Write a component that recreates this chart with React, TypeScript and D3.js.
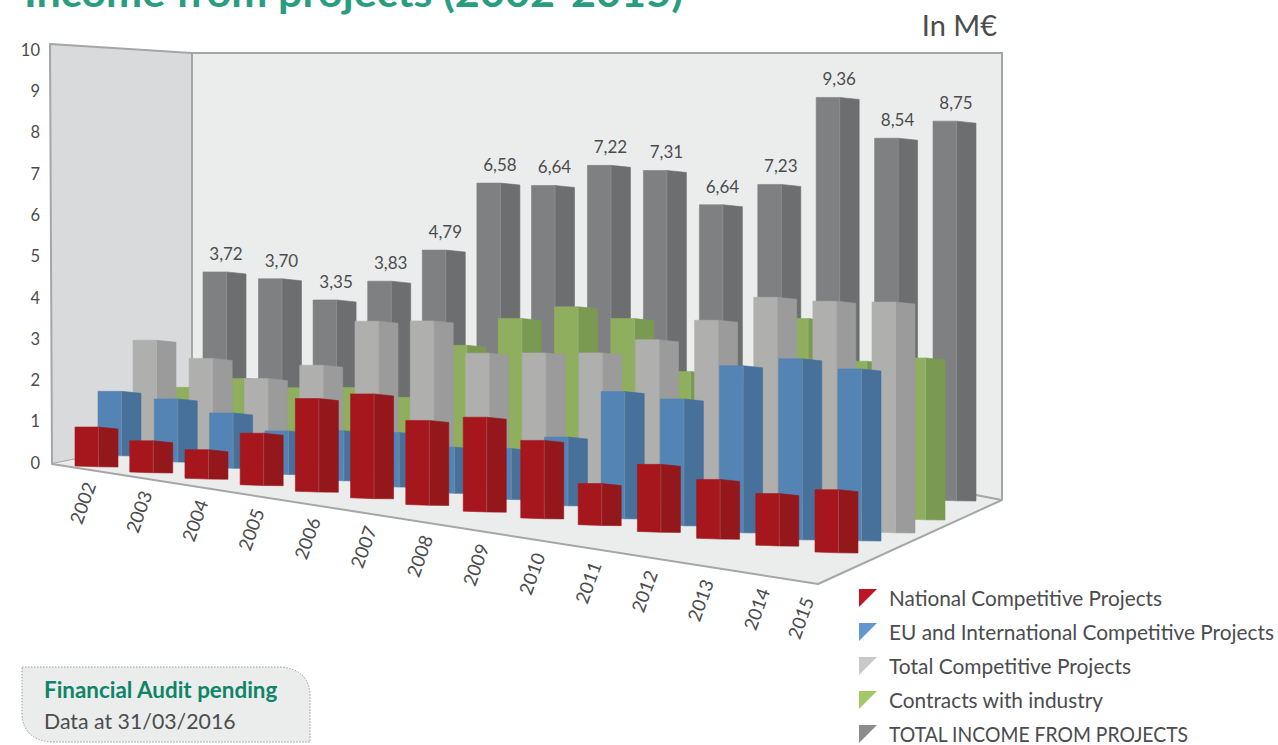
import React from "react";
import * as d3 from "d3";

const years = ["2002","2003","2004","2005","2006","2007","2008","2009","2010","2011","2012","2013","2014","2015"];
const nationalCompetitive = [0.90,0.72,0.66,1.19,2.14,2.40,1.94,2.17,1.79,0.95,1.55,1.36,1.19,1.44];
const euInternational = [1.47,1.44,1.26,0.99,1.14,1.24,1.05,1.16,1.57,2.92,2.91,3.84,4.16,3.95];
const totalCompetitive = [2.42,2.14,1.82,2.28,3.45,3.61,3.02,3.18,3.34,3.80,4.41,5.10,5.17,5.31];
const contractsIndustry = [1.10,1.44,1.37,1.52,1.44,2.79,3.56,3.98,3.86,2.79,2.77,4.32,3.49,3.72];
const totalIncome = [3.72,3.70,3.35,3.83,4.79,6.58,6.64,7.22,7.31,6.64,7.23,9.36,8.54,8.75];
const legendLabels = ["National Competitive Projects","EU and International Competitive Projects","Total Competitive Projects","Contracts with industry","TOTAL INCOME FROM PROJECTS"];
const yTicks = [0,1,2,3,4,5,6,7,8,9,10];

const legendWidths = [273, 385, 242, 214, 299];
const FONT = "Lato, 'Open Sans', sans-serif";
const TEXT = "#4b4c4e";
const UNIT = 43.3;
const FRONT_W = 23.5;
const SIDE_W = 19.5;

const along = d3.scaleLinear().domain([0, 1, 6, 9, 13]).range([0, 0.076, 0.45, 0.68, 1]);
const alongFront = d3.scaleLinear().domain([0, 1, 6, 9, 13]).range([0, 0.074, 0.447, 0.68, 1]);
const xPlane = (range: number[], f = along) => {
  const s = d3.scaleLinear().domain([0, 1]).range(range);
  return (i: number) => s(f(i));
};
const pow = (range: number[]) => d3.scalePow().exponent(1.04).domain([0, 13]).range(range);

const planes = [
  { values: nationalCompetitive, x: xPlane([75, 815], alongFront), base: pow([466, 552]), front: "#a6171d", side: "#94171b", key: "#be1622" },
  { values: euInternational, x: xPlane([98, 838]), base: d3.scaleLinear().domain([0, 8, 9, 12, 13]).range([455, 505, 518, 539, 540]), front: "#5384b4", side: "#47719b", key: "#6398cf" },
  { values: totalCompetitive, x: xPlane([133, 872]), base: pow([445, 532]), front: "#afafae", side: "#9b9b9b", key: "#c9c9c9" },
  { values: contractsIndustry, x: xPlane([168, 902]), base: pow([435, 519]), front: "#8fae5e", side: "#7a9a52", key: "#a3c866" },
  { values: totalIncome, x: xPlane([203, 933]), base: d3.scaleLinear().domain([0, 2, 3, 5, 7, 8, 12, 13]).range([433, 445, 447, 468, 478, 487, 508, 500]), front: "#7f8082", side: "#6d6e70", key: "#8c8c8c" },
];

const yAxis = d3.scaleLinear().domain([0, 10]).range([463, 50]);
const yearX = d3.scaleLinear().domain([0, 12, 13]).range([83, 757, 801]);
const yearY = d3.scaleLinear().domain([0, 13]).range([503, 618]);
const legendY = d3.scaleLinear().domain([0, 4]).range([599, 735]);
const poly = d3.line();

function Bar({ i, p }: { i: number; p: (typeof planes)[number] }) {
  const x0 = p.x(i);
  const x1 = x0 + FRONT_W;
  const x2 = x1 + SIDE_W;
  const bot = p.base(i);
  const top = bot - p.values[i] * UNIT;
  return (
    <g>
      <path d={poly([[x0, top],[x1, top],[x1, bot + 0.8],[x0, bot]]) + "Z"} fill={p.front} stroke={p.front} strokeWidth={0.6} />
      <path d={poly([[x1, top],[x2, top + 2],[x2, bot + 1],[x1, bot + 0.8]]) + "Z"} fill={p.side} stroke={p.side} strokeWidth={0.6} />
      <line x1={x1} x2={x1} y1={top} y2={bot + 0.8} stroke="#ffffff" strokeOpacity={0.22} strokeWidth={0.8} />
    </g>
  );
}

export default function App() {
  const wallStroke = "#a5a6a6";
  return (
    <svg width={1278} height={745} style={{ position: "absolute", left: 0, top: 0, display: "block" }} fontFamily={FONT}>
      <text x={24} y={7} fontSize={40} fontWeight={700} fill="#2a9d80" textLength={659} lengthAdjust="spacingAndGlyphs">Income from projects (2002-2015)</text>
      <text x={997} y={36} fontSize={29} fill={TEXT} textAnchor="end">In M€</text>

      <path d="M50,44L192,53L192,436L52,464Z" fill="#d9dadc" stroke={wallStroke} strokeWidth={2} strokeLinejoin="round" />
      <path d="M192,53L1002,53L1002,500L192,436Z" fill="#ebeded" stroke="none" />
      <path d="M192,53L1002,53L1002,500" fill="none" stroke={wallStroke} strokeWidth={2} />
      <path d="M192,53L192,436" fill="none" stroke={wallStroke} strokeWidth={2} />
      <path d="M52,464L192,436L960,492L1002,500L818,584Z" fill="#ebeded" stroke="none" />
      <path d="M960,492L1002,500L818,584L52,464" fill="none" stroke={wallStroke} strokeWidth={2} strokeLinejoin="round" />

      {yTicks.map((t) => (
        <text key={t} x={40} y={yAxis(t)} dy="0.35em" fontSize={16.5} fill={TEXT} textAnchor="end">{t}</text>
      ))}

      {[...planes].reverse().map((p, s) => (
        <g key={s}>{years.map((_, i) => <Bar key={i} i={i} p={p} />)}</g>
      ))}

      {totalIncome.map((v, i) => {
        const p = planes[4];
        return (
          <text key={i} x={p.x(i) + 23} y={p.base(i) - v * UNIT - 18} dy="0.35em" fontSize={17} fill={TEXT} textAnchor="middle">
            {d3.format(".2f")(v).replace(".", ",")}
          </text>
        );
      })}

      {years.map((y, i) => (
        <text key={y} transform={`translate(${yearX(i)},${yearY(i)}) rotate(-70)`} dy="0.35em" fontSize={18.5} fill={TEXT} textAnchor="middle">{y}</text>
      ))}

      {legendLabels.map((l, i) => {
        const cy = legendY(i);
        return (
          <g key={l}>
            <path d={poly([[859, cy - 10],[877, cy - 10],[859, cy + 8]]) + "Z"} fill={planes[i].key} />
            <text x={889} y={cy} dy="0.35em" fontSize={20.8} fill={TEXT} textLength={legendWidths[i]} lengthAdjust="spacingAndGlyphs">{l}</text>
          </g>
        );
      })}

      <path d="M22,667L280,667Q310,669 310,697L310,742L52,742Q22,740 22,712Z" fill="#ebeded" stroke="#9a9a9a" strokeWidth={1} strokeDasharray="1.5 1.5" />
      <text x={44} y={697.5} fontSize={22.4} fontWeight={700} fill="#0f8468">Financial Audit pending</text>
      <text x={44} y={729} fontSize={21.3} fill={TEXT}>Data at 31/03/2016</text>
    </svg>
  );
}
